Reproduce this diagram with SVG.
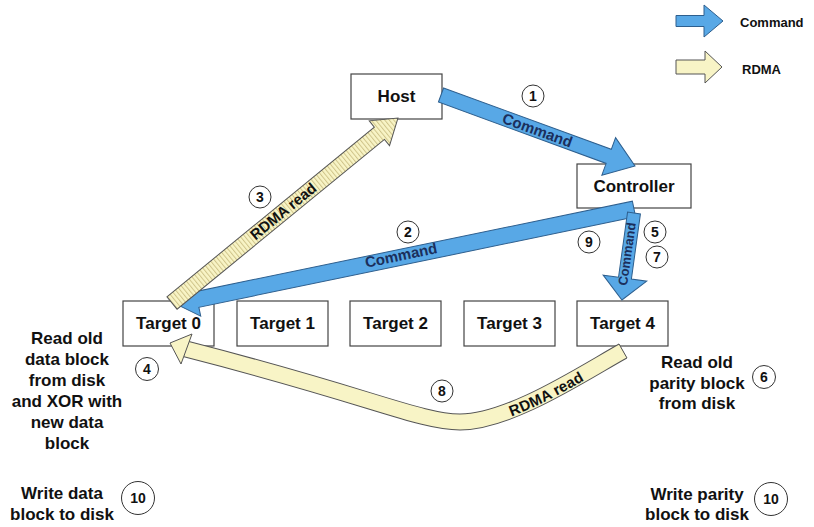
<svg xmlns="http://www.w3.org/2000/svg" width="814" height="527" viewBox="0 0 814 527">
<defs>
<style>
.box{fill:#fff;stroke:#444;stroke-width:1.2}
.lbl{font-family:"Liberation Sans",Arial,sans-serif;font-weight:bold;font-size:17px;fill:#111;text-anchor:middle;dominant-baseline:central}
.note{font-family:"Liberation Sans",Arial,sans-serif;font-weight:bold;font-size:17px;fill:#111;text-anchor:middle}
.cmd{fill:#58A8E6;stroke:#2E5F8E;stroke-width:1}
.rdma{fill:#F8F4C6;stroke:#555;stroke-width:1}
.ctxt{font-family:"Liberation Sans",Arial,sans-serif;font-weight:bold;font-size:15px;fill:#1B2F5C;text-anchor:middle;dominant-baseline:central}
.rtxt{font-family:"Liberation Sans",Arial,sans-serif;font-weight:bold;font-size:15px;fill:#111;text-anchor:middle;dominant-baseline:central}
.num circle{fill:#fff;stroke:#333;stroke-width:1}
.num text{font-family:"Liberation Sans",Arial,sans-serif;font-weight:bold;font-size:14px;fill:#111;text-anchor:middle;dominant-baseline:central}
.leg{font-family:"Liberation Sans",Arial,sans-serif;font-weight:bold;font-size:13px;fill:#111;dominant-baseline:central}
</style>
<pattern id="hatch" width="3.5" height="4" patternUnits="userSpaceOnUse">
<rect width="3.5" height="4" fill="#F8F4C6"/>
<line x1="0.5" y1="0" x2="0.5" y2="4" stroke="#CFC48A" stroke-width="1"/>
</pattern>
</defs>
<rect width="814" height="527" fill="#fff"/>

<g id="host"><rect class="box" x="351" y="74" width="91" height="45"/><text class="lbl" x="396.5" y="96.5">Host</text></g>
<g id="controller"><rect class="box" x="577" y="164" width="114" height="44"/><text class="lbl" x="634" y="186">Controller</text></g>
<g id="target0"><rect class="box" x="123" y="301" width="91" height="45"/><text class="lbl" x="168.5" y="323.5">Target 0</text></g>
<g id="target1"><rect class="box" x="237" y="301" width="91" height="45"/><text class="lbl" x="282.5" y="323.5">Target 1</text></g>
<g id="target2"><rect class="box" x="350" y="301" width="91" height="45"/><text class="lbl" x="395.5" y="323.5">Target 2</text></g>
<g id="target3"><rect class="box" x="464" y="301" width="91" height="45"/><text class="lbl" x="509.5" y="323.5">Target 3</text></g>
<g id="target4"><rect class="box" x="577" y="301" width="91" height="45"/><text class="lbl" x="622.5" y="323.5">Target 4</text></g>

<g id="connectors">
  <!-- 1: Host -> Controller -->
  <g transform="translate(441,95) rotate(20.1)"><polygon class="cmd" points="0,-7.5 178.6,-7.5 178.6,-20 206.6,0 178.6,20 178.6,7.5 0,7.5"/></g>
  <text class="ctxt" transform="translate(537.5,130) rotate(20.1)">Command</text>
  <!-- 2: Controller -> Target 0 -->
  <g transform="translate(634,209) rotate(168.3)"><polygon class="cmd" points="0,-8 446,-8 446,-17 468,0 446,17 446,8 0,8"/></g>
  <text class="ctxt" transform="translate(401,255) rotate(-11.7)">Command</text>
  <!-- 4: Controller -> Target 4 -->
  <g transform="translate(634,213) rotate(97.9)"><polygon class="cmd" points="0,-6.5 65.8,-6.5 65.8,-22 87.8,0 65.8,22 65.8,6.5 0,6.5"/></g>
  <text class="ctxt" style="font-size:13px" transform="translate(627,254) rotate(-82)">Command</text>
  <!-- 3: Target 0 -> Host RDMA -->
  <g transform="translate(172,303) rotate(-39.3)"><polygon fill="url(#hatch)" stroke="#555" stroke-width="1" points="0,-8 268,-8 268,-16 292,0 268,16 268,8 0,8"/></g>
  <text class="rtxt" transform="translate(283,211) rotate(-39.3)">RDMA read</text>
  <!-- 8: Target 4 -> Target 0 RDMA curved -->
  <path d="M 623,351 C 585,372 510,422 460,422 C 420,422 370,396 186,349" fill="none" stroke="#555" stroke-width="17"/>
  <path d="M 623,351 C 585,372 510,422 460,422 C 420,422 370,396 186,349" fill="none" stroke="#F8F4C6" stroke-width="15"/>
  <line x1="619" y1="344" x2="627" y2="358" stroke="#555" stroke-width="1"/>
  <polygon class="rdma" points="170,343 192,334 181,364"/>
  <path id="rp" d="M 186,349 C 370,396 420,422 460,422 C 510,422 585,372 623,351" fill="none"/>
  <text class="rtxt"><textPath href="#rp" startOffset="375" dominant-baseline="central">RDMA read</textPath></text>
</g>

<g class="num" id="n1"><circle cx="533" cy="96" r="11"/><text x="533" y="96">1</text></g>
<g class="num" id="n2"><circle cx="408" cy="232" r="11"/><text x="408" y="232">2</text></g>
<g class="num" id="n3"><circle cx="260" cy="197" r="11"/><text x="260" y="197">3</text></g>
<g class="num" id="n4"><circle cx="147" cy="369" r="11.5"/><text x="147" y="369">4</text></g>
<g class="num" id="n5"><circle cx="655" cy="232" r="11"/><text x="655" y="232">5</text></g>
<g class="num" id="n6"><circle cx="764" cy="377" r="11.5"/><text x="764" y="377">6</text></g>
<g class="num" id="n7"><circle cx="657" cy="257" r="11"/><text x="657" y="257">7</text></g>
<g class="num" id="n8"><circle cx="442" cy="391" r="11"/><text x="442" y="391">8</text></g>
<g class="num" id="n9"><circle cx="589" cy="242" r="11"/><text x="589" y="242">9</text></g>
<g class="num" id="n10a"><circle cx="138" cy="498" r="16.5"/><text x="138" y="498">10</text></g>
<g class="num" id="n10b"><circle cx="771" cy="499" r="16.5"/><text x="771" y="499">10</text></g>

<g id="note-t0">
<text class="note" x="67" y="344">Read old</text>
<text class="note" x="67" y="365">data block</text>
<text class="note" x="67" y="386">from disk</text>
<text class="note" x="67" y="407">and XOR with</text>
<text class="note" x="67" y="428">new data</text>
<text class="note" x="67" y="449">block</text>
</g>
<g id="note-w0">
<text class="note" x="62" y="499">Write data</text>
<text class="note" x="62" y="520">block to disk</text>
</g>
<g id="note-t4">
<text class="note" x="697" y="368">Read old</text>
<text class="note" x="697" y="389">parity block</text>
<text class="note" x="697" y="409">from disk</text>
</g>
<g id="note-w4">
<text class="note" x="697" y="500">Write parity</text>
<text class="note" x="697" y="520">block to disk</text>
</g>

<g id="legend">
<polygon class="cmd" points="676,15.5 704,15.5 704,5 723,21 704,37 704,26.5 676,26.5"/>
<text class="leg" x="740" y="22">Command</text>
<polygon class="rdma" points="676,60 705,60 705,51 722,67 705,83 705,74 676,74"/>
<text class="leg" x="742" y="69">RDMA</text>
</g>
</svg>
